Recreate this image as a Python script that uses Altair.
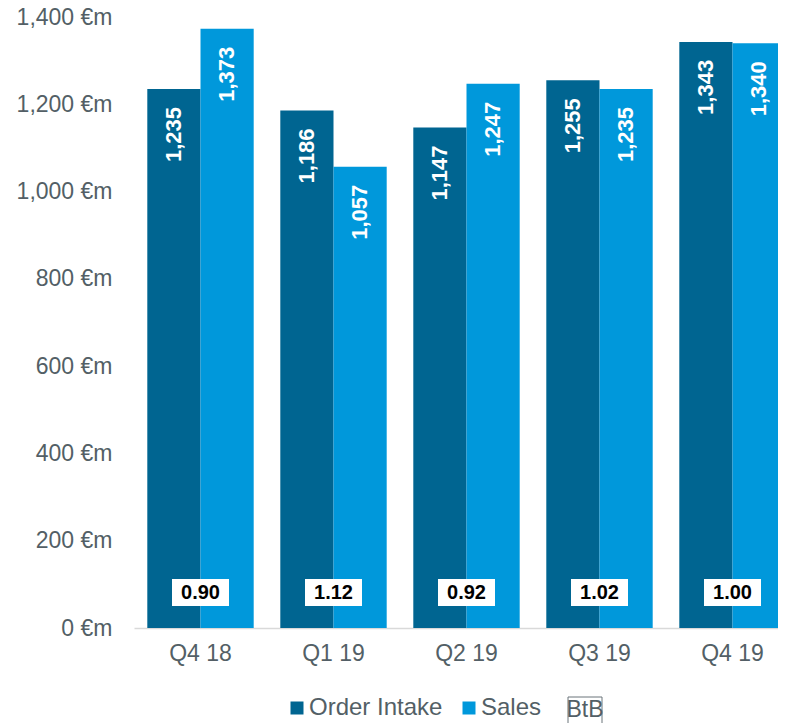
import altair as alt
import pandas as pd

# ---- data ----
quarters = ["Q4 18", "Q1 19", "Q2 19", "Q3 19", "Q4 19"]
series = ["Order Intake", "Sales"]
order_intake = [1235, 1186, 1147, 1255, 1343]
sales = [1373, 1057, 1247, 1235, 1340]
btb = [0.90, 1.12, 0.92, 1.02, 1.00]
legend_extra = ["BtB"]
y_ticks = [0, 200, 400, 600, 800, 1000, 1200, 1400]

# ---- style ----
colors = ["#006591", "#0098db"]
gray = "#535f66"
FONT = "Liberation Sans"
W, H = 665, 611

bars_df = pd.DataFrame({
    "quarter": quarters * 2,
    "series": [series[0]] * len(quarters) + [series[1]] * len(quarters),
    "value": order_intake + sales,
})
btb_df = pd.DataFrame({"quarter": quarters, "btb": btb})
leg_df = pd.DataFrame({"label": legend_extra})

x_enc = alt.X(
    "quarter:N", sort=quarters,
    scale=alt.Scale(paddingInner=0.2, paddingOuter=0.1),
    axis=alt.Axis(title=None, labelAngle=0, labelFontSize=23, labelColor=gray,
                  labelFont=FONT, labelPadding=14, ticks=False,
                  domainColor="#d9d9d9", domainWidth=1.5, grid=False),
)
y_enc = alt.Y(
    "value:Q", scale=alt.Scale(domain=[0, 1400], nice=False),
    axis=alt.Axis(title=None, values=y_ticks,
                  labelExpr="format(datum.value, ',') + ' €m'",
                  labelFontSize=23, labelColor=gray, labelFont=FONT,
                  labelPadding=22, ticks=False, domain=False, grid=False),
)
xoff = alt.XOffset("series:N", sort=series, scale=alt.Scale(paddingInner=0, paddingOuter=0))

bars = alt.Chart(bars_df).mark_bar().encode(
    x=x_enc, y=y_enc, xOffset=xoff,
    color=alt.Color("series:N", sort=series,
                    scale=alt.Scale(domain=series, range=colors),
                    legend=alt.Legend(orient="none", legendX=151, legendY=679,
                                      direction="horizontal", title=None,
                                      symbolType="square", symbolSize=169,
                                      labelFontSize=24, labelColor=gray,
                                      labelFont=FONT, labelOffset=0,
                                      columnPadding=14, padding=0,
                                      symbolStrokeWidth=0)),
)

values = alt.Chart(bars_df).mark_text(
    angle=270, align="right", baseline="middle", dx=-18,
    color="white", font=FONT, fontSize=22, fontWeight="bold",
).encode(
    x=alt.X("quarter:N", sort=quarters), y="value:Q", xOffset=xoff,
    text=alt.Text("value:Q", format=","),
)

btb_box = alt.Chart(btb_df).mark_bar(width=57, color="white").encode(
    x=alt.X("quarter:N", sort=quarters),
    y=alt.value(562), y2=alt.value(589),
)
btb_text = alt.Chart(btb_df).mark_text(
    baseline="middle", align="center", color="black",
    font=FONT, fontSize=20, fontWeight="bold",
).encode(
    x=alt.X("quarter:N", sort=quarters), y=alt.value(576),
    text=alt.Text("btb:Q", format=".2f"),
)

leg_box = alt.Chart(leg_df).mark_rect(
    fill="white", stroke="#6a747a", strokeWidth=1,
).encode(
    x=alt.value(434), x2=alt.value(468), y=alt.value(680), y2=alt.value(708),
)
leg_text = alt.Chart(leg_df).mark_text(
    baseline="alphabetic", align="center", color=gray, font=FONT, fontSize=23,
).encode(
    x=alt.value(451), y=alt.value(700), text="label:N",
)

chart = alt.layer(bars, values, btb_box, btb_text, leg_box, leg_text).properties(
    width=W, height=H,
    autosize=alt.AutoSizeParams(type="none"),
    padding={"left": 126, "top": 9, "right": -21, "bottom": 95},
).configure_view(stroke=None)

chart.save("out.html", embed_options={"renderer": "svg", "actions": False})
